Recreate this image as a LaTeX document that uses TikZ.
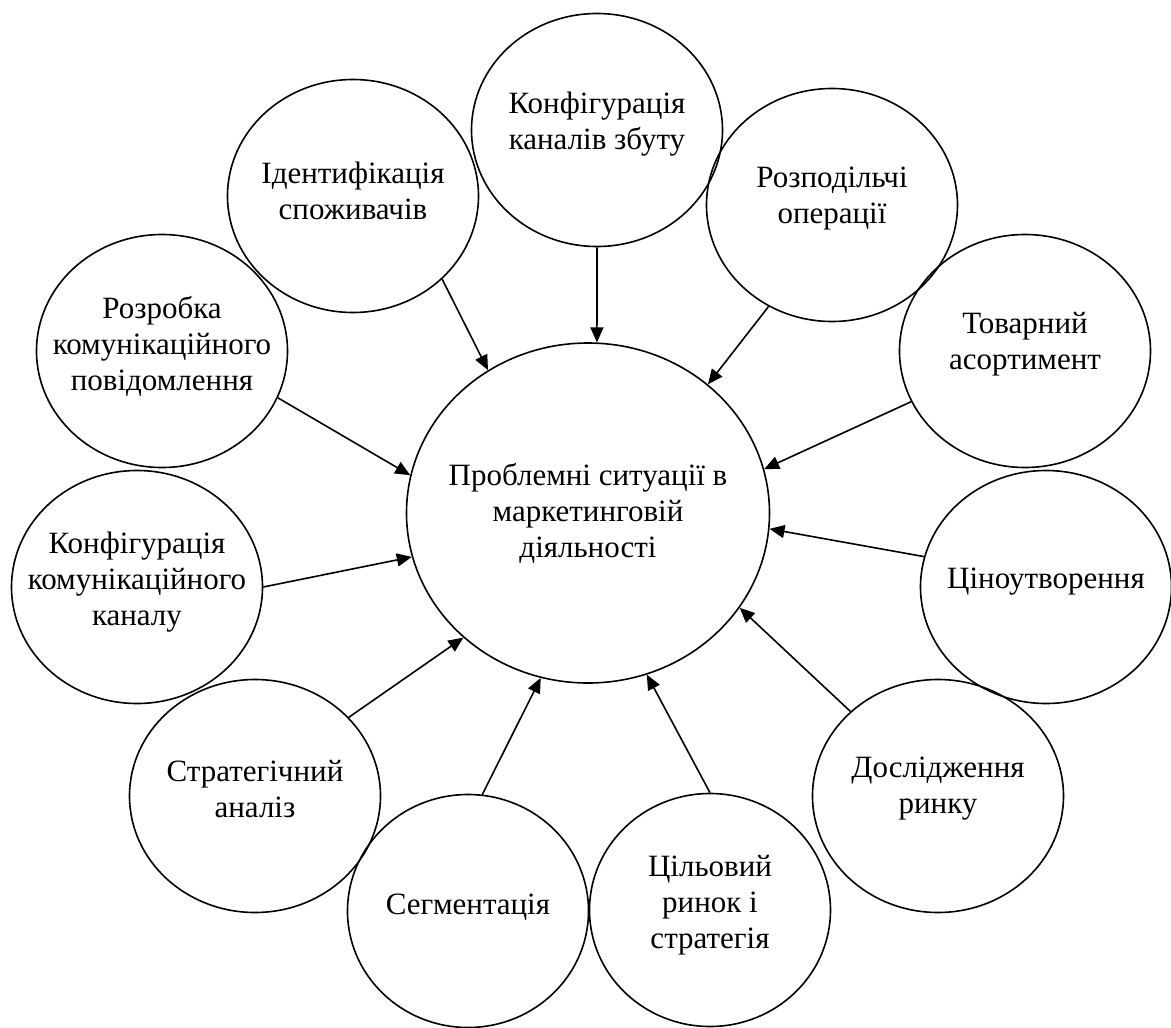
\documentclass[tikz,border=0pt]{standalone}
\usepackage{fontspec}
\setmainfont{Liberation Serif}
\usetikzlibrary{shapes.geometric,arrows.meta}
\newcommand{\bw}{251}
\newcommand{\bh}{233}

\begin{document}
\begin{tikzpicture}[x=1pt,y=-1pt,
                    bub/.style={ellipse,draw=black,line width=1.6pt,inner sep=0pt,
                                minimum width=\bw pt,minimum height=\bh pt},
                    txt/.style={align=center,inner sep=0pt,font=\fontsize{31}{36}\selectfont},
                    arr/.style={-{Triangle[length=15pt,width=13pt]},line width=1.6pt,draw=black}]
                    \useasboundingbox (0,0) rectangle (1171,1028);
                    \node[bub,minimum width=363pt,minimum height=340pt] (c) at (588,513) {};
                    \node[bub] (k1) at (597,130) {};
                    \node[bub] (id) at (353,196) {};
                    \node[bub] (rd) at (832,205) {};
                    \node[bub] (rp) at (162,351) {};
                    \node[bub] (ta) at (1025,351) {};
                    \node[bub] (k2) at (137,587) {};
                    \node[bub] (cu) at (1046,587) {};
                    \node[bub] (sa) at (255,796) {};
                    \node[bub] (dr) at (938,796) {};
                    \node[bub,minimum width=241pt] (sg) at (468,911) {};
                    \node[bub,minimum width=241pt] (cr) at (710,910) {};
                    \node[txt] (c-t) at (c) {Проблемні ситуації в\\маркетинговій\\діяльності};
                    \node[txt] (k1-t) at ([yshift=6pt]k1) {Конфігурація\\каналів збуту};
                    \node[txt] (id-t) at ([yshift=5pt]id) {Ідентифікація\\споживачів};
                    \node[txt] (rd-t) at ([yshift=6pt]rd) {Розподільчі\\операції};
                    \node[txt] (rp-t) at ([yshift=5pt]rp) {Розробка\\комунікаційного\\повідомлення};
                    \node[txt] (ta-t) at ([yshift=7pt]ta) {Товарний\\асортимент};
                    \node[txt] (k2-t) at ([yshift=5pt]k2) {Конфігурація\\комунікаційного\\каналу};
                    \node[txt] (cu-t) at ([yshift=5pt]cu) {Ціноутворення};
                    \node[txt] (sa-t) at ([yshift=7pt]sa) {Стратегічний\\аналіз};
                    \node[txt] (dr-t) at ([yshift=7pt]dr) {Дослідження\\ринку};
                    \node[txt] (sg-t) at ([yshift=4pt]sg) {Сегментація};
                    \node[txt] (cr-t) at ([yshift=5pt]cr) {Цільовий\\ринок і\\стратегія};
                    \foreach \n/\a/\b in {k1/-90/87,id/-43/125,rd/238/47,rp/-22.5/168,ta/204/14,
                                          k2/0/194,cu/166/-5,sa/40/225,dr/136/-32,sg/83/254,cr/90/-70.5}{
                    \draw[arr] (\n.\a) -- (c.\b);
                    }
                    \end{tikzpicture}
\end{document}
